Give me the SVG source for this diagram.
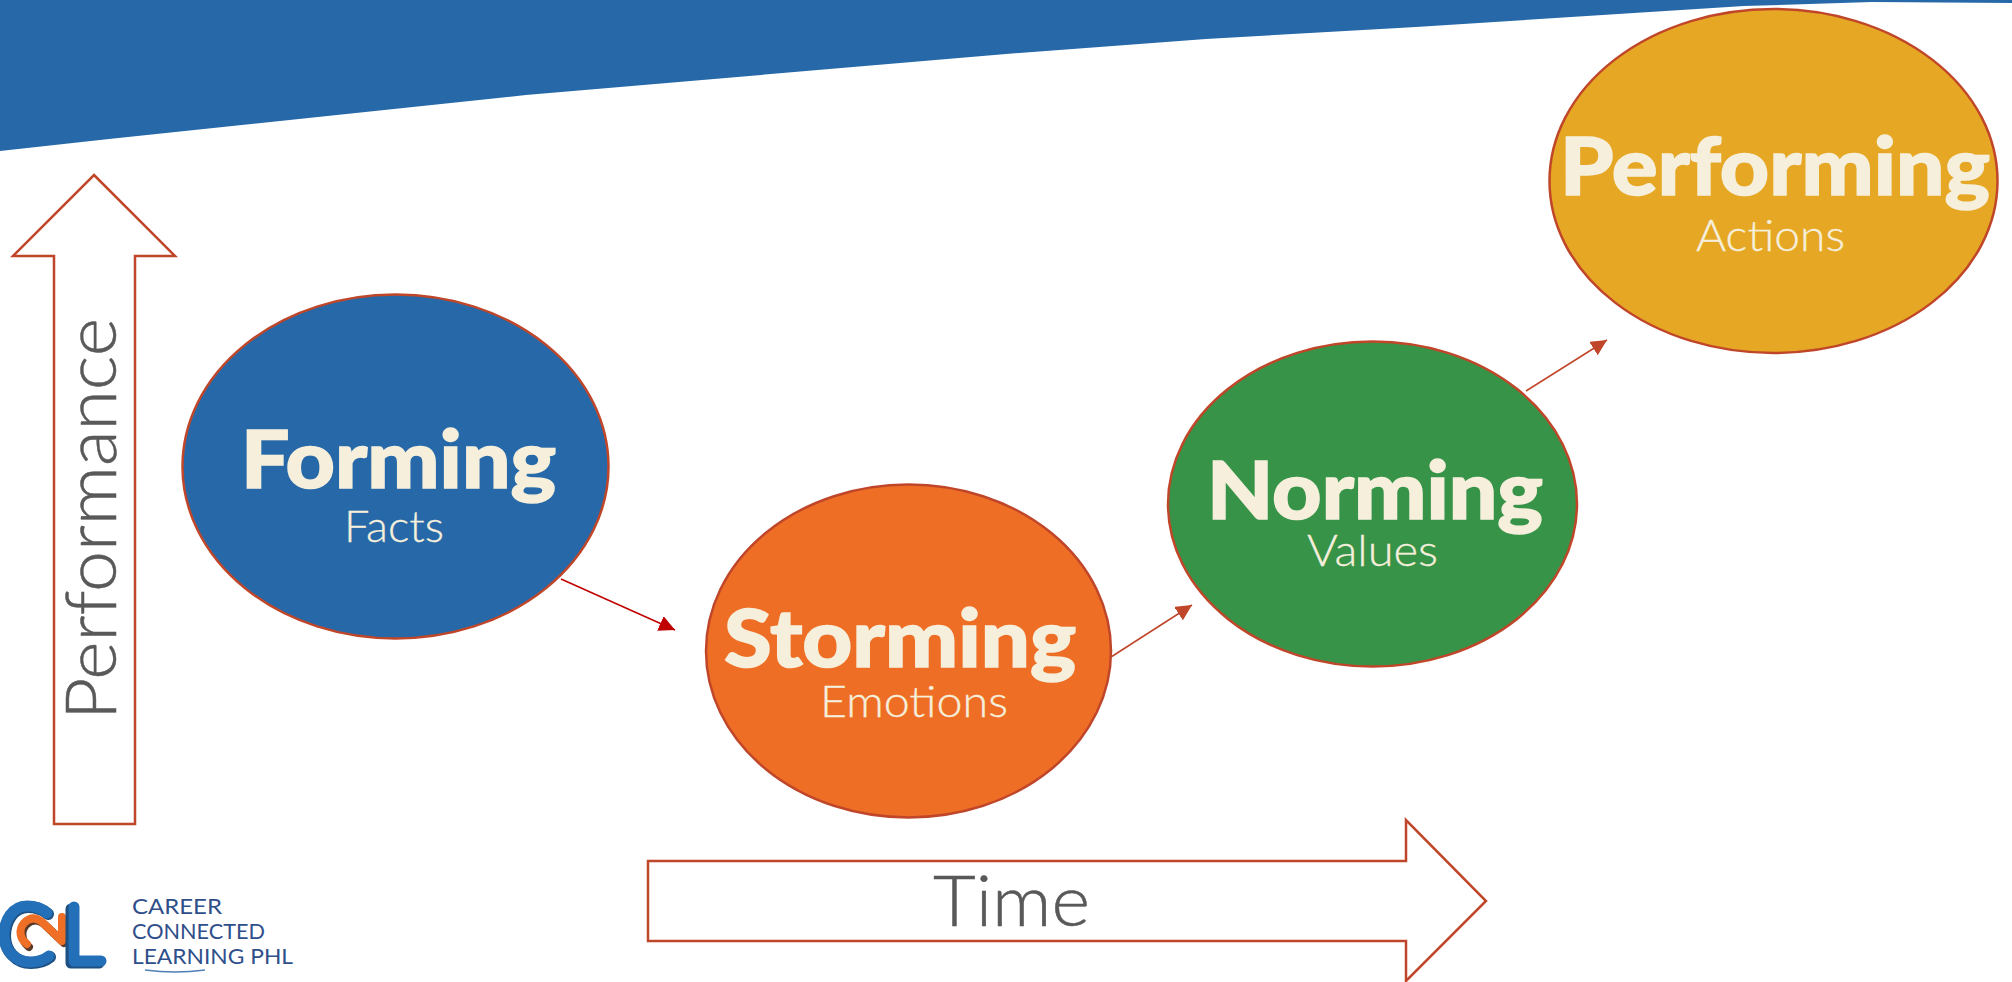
<svg xmlns="http://www.w3.org/2000/svg" width="2012" height="982" viewBox="0 0 2012 982">
<style>
text{font-family:Lato,"Noto Sans",sans-serif}
.e{stroke:#c0462a;stroke-width:2.5}
.t{fill:#f5efdc;stroke:#f5efdc;stroke-width:1.5;font-weight:900;font-size:80px}
.s{fill:#f5efdc;font-weight:300;font-size:43px;stroke:#f5efdc;stroke-width:.3}
.a{fill:#fff;stroke:#c0462a;stroke-width:2.5}
.l{fill:#595959;stroke:#595959;stroke-width:.5;font-weight:300;font-size:70px}
.c{fill:none;stroke-width:1.5}
.logo{fill:#2f4f8a;font-weight:400;font-size:22px}
</style>
<defs>
<marker id="ar" viewBox="0 0 10 10" refX="10" refY="5" markerWidth="16" markerHeight="16" markerUnits="userSpaceOnUse" orient="auto"><path d="M0 0L10 5L0 10Z" fill="#c0462a"/></marker>
<marker id="ad" viewBox="0 0 10 10" refX="10" refY="5" markerWidth="16" markerHeight="16" markerUnits="userSpaceOnUse" orient="auto"><path d="M0 0L10 5L0 10Z" fill="#c00000"/></marker>
</defs>
<path id="band" d="M0 0H2012V3L1872 2L1744 6L1416 27L1206 39L1006 54L526 95L109 139L0 151Z" fill="#2769a8"/>
<g id="performance-arrow"><path class="a" d="M94 175L175 256H135V824H54V256H13Z"/><text class="l" transform="translate(116 720) rotate(-90)" textLength="402" lengthAdjust="spacingAndGlyphs">Performance</text></g>
<g id="time-arrow"><path class="a" d="M648 861H1406V820L1486 901L1406 981V941H648Z"/><text class="l" x="933" y="926" textLength="157" lengthAdjust="spacingAndGlyphs">Time</text></g>
<g id="connectors">
<path class="c" stroke="#c00000" marker-end="url(#ad)" d="M561 579L675 630"/>
<path class="c" stroke="#c0462a" marker-end="url(#ar)" d="M1111 657L1192 605"/>
<path class="c" stroke="#c0462a" marker-end="url(#ar)" d="M1526 391L1607 340"/>
</g>
<g id="forming"><ellipse class="e" cx="395.500" cy="466.500" rx="213" ry="172" fill="#2769a8"/><text class="t" x="241" y="488" textLength="315" lengthAdjust="spacingAndGlyphs">Forming</text><text class="s" x="344" y="542" textLength="100" lengthAdjust="spacingAndGlyphs">Facts</text></g>
<g id="storming"><ellipse class="e" cx="908.500" cy="651" rx="202.500" ry="166.500" fill="#ef6e26"/><text class="t" x="724" y="667" textLength="352" lengthAdjust="spacingAndGlyphs">Storming</text><text class="s" x="820" y="717" textLength="188" lengthAdjust="spacingAndGlyphs">Emotions</text></g>
<g id="norming"><ellipse class="e" cx="1372.500" cy="504" rx="204.500" ry="162.500" fill="#379348"/><text class="t" x="1207" y="519" textLength="336" lengthAdjust="spacingAndGlyphs">Norming</text><text class="s" x="1307" y="566" textLength="131" lengthAdjust="spacingAndGlyphs">Values</text></g>
<g id="performing"><ellipse class="e" cx="1773.500" cy="181" rx="224" ry="172" fill="#e6a724"/><text class="t" x="1560" y="195" textLength="430" lengthAdjust="spacingAndGlyphs">Performing</text><text class="s" x="1696" y="251" textLength="149" lengthAdjust="spacingAndGlyphs">Actions</text></g>
<g id="logo">
<g fill="none" stroke-linecap="round" stroke-linejoin="round">
<path d="M47 913C40 907 33 906 27 906C12 906 4 921 4 935C4 950 15 962 30 962C38 962 44 960 49 956" stroke="#1d4f80" stroke-width="12" transform="translate(1 1)"/>
<path d="M47 913C40 907 33 906 27 906C12 906 4 921 4 935C4 950 15 962 30 962C38 962 44 960 49 956" stroke="#2470b8" stroke-width="11"/>
<path d="M27 945C20 940 18 930 24 923C30 917 36 917 42 922L62 941" stroke="#5b3a2a" stroke-width="8" transform="translate(2 2)"/>
<path d="M27 944C20 939 18 930 24 923C30 917 36 917 42 922L62 941V917" stroke="#ee6f25" stroke-width="8"/>
<path d="M73 908V962H101" stroke="#1d4f80" stroke-width="11" transform="translate(-2 1)"/>
<path d="M74 907V961H101" stroke="#2470b8" stroke-width="11"/>
</g>
<text class="logo" x="132" y="914" textLength="90" lengthAdjust="spacingAndGlyphs">CAREER</text>
<text class="logo" x="132" y="939" textLength="133" lengthAdjust="spacingAndGlyphs">CONNECTED</text>
<text class="logo" x="132" y="964" textLength="161" lengthAdjust="spacingAndGlyphs">LEARNING PHL</text>
<path d="M145 970Q175 974 205 970" fill="none" stroke="#4f7fb5" stroke-width="1.5"/>
</g>
</svg>
